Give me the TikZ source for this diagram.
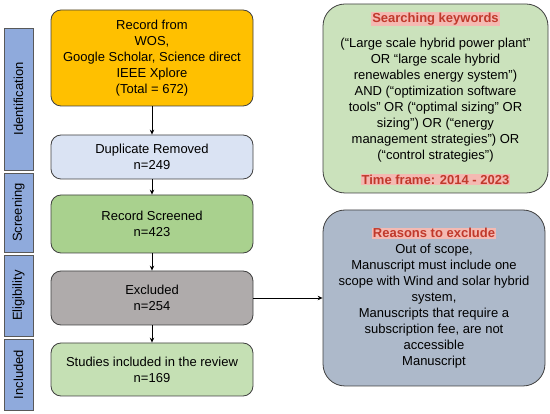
\documentclass[tikz,border=0pt]{standalone}
\usepackage{fontspec}
\setmainfont{Liberation Sans}
\usepackage{xcolor}
\usetikzlibrary{arrows.meta, positioning, calc}
\definecolor{recorange}{HTML}{FFC000}
\definecolor{dupblue}{HTML}{DAE3F3}
\definecolor{scrgreen}{HTML}{A9D18E}
\definecolor{exclgray}{HTML}{AFABAB}
\definecolor{inclgreen}{HTML}{C5E0B4}
\definecolor{keygreen}{HTML}{CBE2BC}
\definecolor{reasonblue}{HTML}{ADB9CA}
\definecolor{phaseblue}{HTML}{8FAADC}
\definecolor{titlered}{HTML}{C0392B}
\definecolor{hlpink}{HTML}{F4B9B2}
\newcommand{\hltitle}[1]{{\setlength{\fboxsep}{0.8pt}\colorbox{hlpink}{\textcolor{titlered}{\bfseries #1}}}}

\begin{document}
\begin{tikzpicture}[
    x=1pt, y=-1pt,
    font=\fontsize{13}{16}\selectfont,
    flowbox/.style={rectangle, rounded corners=10pt, draw=black!75, line width=0.8pt, fill=#1,
                    minimum width=202pt, align=center, inner sep=2pt},
    infobox/.style={rectangle, rounded corners=22pt, draw=black!75, line width=0.8pt, fill=#1,
                    align=center, inner sep=2pt},
    phase/.style={rectangle, draw=black!65, line width=0.8pt, fill=phaseblue,
                  minimum width=29pt, rotate=90, inner sep=0pt},
    arrow/.style={-{Stealth[length=5pt, width=4.5pt]}, line width=0.8pt}
]
    \useasboundingbox (0,0) rectangle (550,414);

    % Phase labels
    \node[phase, minimum width=142pt, minimum height=29pt] (ident) at (18.5,99) {Identification};
    \node[phase, minimum width=79pt, minimum height=29pt] (screen) at (18.5,212.5) {Screening};
    \node[phase, minimum width=81pt, minimum height=29pt] (elig) at (18.5,295.5) {Eligibility};
    \node[phase, minimum width=71pt, minimum height=29pt] (incl) at (18.5,374.5) {Included};

    % Main flow
    \node[flowbox=recorange, minimum height=96pt] (record) at (152,58)
        {Record from\\WOS,\\Google Scholar, Science direct\\IEEE Xplore\\(Total = 672)};
    \node[flowbox=dupblue, minimum height=44pt] (dup) at (152,157) {Duplicate Removed\\n=249};
    \node[flowbox=scrgreen, minimum height=58pt] (screened) at (152,224) {Record Screened\\n=423};
    \node[flowbox=exclgray, minimum height=54pt] (excluded) at (152,298) {Excluded\\n=254};
    \node[flowbox=inclgreen, minimum height=53pt] (included) at (152,369.5) {Studies included in the review\\n=169};

    % Side boxes
    \node[infobox=keygreen, minimum width=225pt, minimum height=189pt] (keywords) at (435.5,98.5)
        {\hltitle{Searching keywords}\\[9pt]
         (“Large scale hybrid power plant”\\
         OR “large scale hybrid\\
         renewables energy system”)\\
         AND (“optimization software\\
         tools” OR (“optimal sizing” OR\\
         sizing”) OR (“energy\\
         management strategies”) OR\\
         (“control strategies”)\\[9pt]
         \hltitle{Time frame: 2014 - 2023}};
    \node[infobox=reasonblue, minimum width=222pt, minimum height=176pt] (reasons) at (434,298)
        {\hltitle{Reasons to exclude}\\
         Out of scope,\\
         Manuscript must include one\\
         scope with Wind and solar hybrid\\
         system,\\
         Manuscripts that require a\\
         subscription fee, are not\\
         accessible\\
         Manuscript};

    % Arrows
    \draw[arrow] (record) -- (dup);
    \draw[arrow] (dup) -- (screened);
    \draw[arrow] (screened) -- (excluded);
    \draw[arrow] (excluded) -- (included);
    \draw[arrow] (excluded) -- (reasons);
\end{tikzpicture}
\end{document}
